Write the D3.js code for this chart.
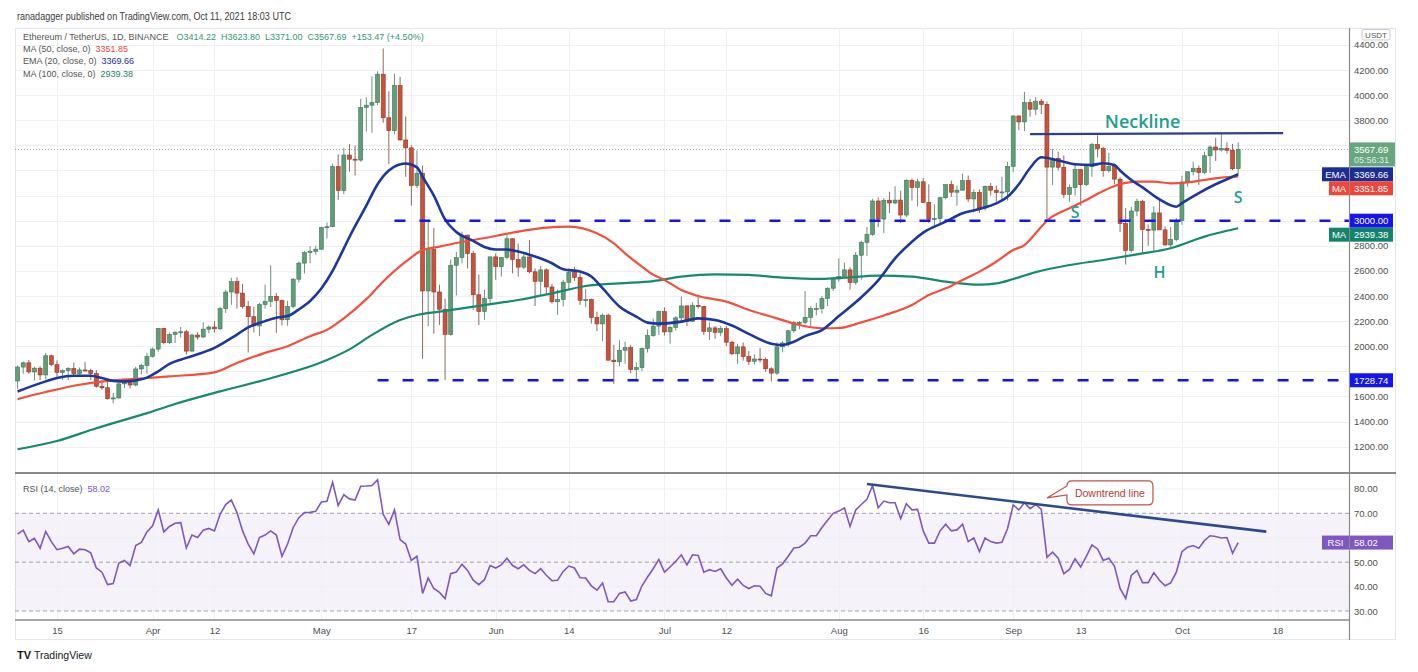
<!DOCTYPE html>
<html>
<head>
<meta charset="utf-8">
<script src="https://cdn.jsdelivr.net/npm/d3@7"></script>
<style>
  html, body { margin: 0; padding: 0; background: #ffffff; }
  svg { display: block; font-family: "Liberation Sans", Arial, sans-serif; }
</style>
</head>
<body>
<svg id="chart" width="1418" height="672"></svg>
<script>
// ---------------- DATA ----------------
const startDate = "2021-03-08"; // first daily candle, one candle per day
// [open, high, low, close]
const ohlcMar = [
  [1723,1845,1661,1834],[1834,1877,1781,1868],[1868,1890,1780,1795],[1795,1837,1728,1825],
  [1825,1840,1730,1771],[1771,1946,1736,1924],[1924,1932,1840,1854],[1854,1887,1757,1792],
  [1792,1815,1732,1806],[1806,1833,1730,1822],[1822,1870,1762,1782],[1782,1830,1760,1811],
  [1811,1876,1800,1806],[1806,1820,1731,1783],[1783,1810,1670,1681],[1681,1726,1652,1669],
  [1669,1740,1575,1582],[1582,1627,1546,1588],[1588,1705,1582,1700],[1700,1730,1668,1716],
  [1716,1725,1663,1691],[1691,1837,1680,1819],[1819,1860,1776,1847],[1847,1948,1781,1919]
];
const ohlcApr = [
  [1919,1990,1911,1977],[1977,2144,1955,2142],[2142,2145,2015,2028],[2028,2110,2018,2093],
  [2093,2121,2025,2108],[2108,2153,2070,2115],[2115,2131,1933,1961],[1961,2100,1956,2089],
  [2089,2112,2052,2073],[2073,2190,2067,2136],[2136,2165,2104,2153],[2153,2200,2110,2139],
  [2139,2315,2128,2299],[2299,2448,2265,2432],[2432,2545,2330,2514],[2514,2548,2300,2423],
  [2423,2497,2300,2317],[2317,2360,1950,2235],[2235,2313,2110,2162],[2162,2345,2080,2331],
  [2331,2492,2300,2357],[2357,2644,2311,2397],[2397,2424,2107,2365],[2365,2370,2166,2211],
  [2211,2360,2163,2317],[2317,2544,2300,2534],[2534,2675,2508,2662],[2662,2760,2580,2746],
  [2746,2798,2660,2756],[2756,2800,2728,2773]
];
const ohlcMay = [
  [2773,2950,2768,2945],[2945,2985,2858,2952],[2952,3455,2948,3431],[3431,3530,3166,3240],
  [3240,3580,3210,3523],[3523,3610,3390,3490],[3490,3600,3361,3483],[3483,3970,3470,3902],
  [3902,3982,3710,3920],[3920,4150,3700,3941],[3941,4190,3920,4167],[4167,4372,3780,3820],
  [3820,4030,3450,3717],[3717,4170,3690,4076],[4076,4147,3640,3643],[3643,3830,3350,3580],
  [3580,3600,3120,3280],[3280,3560,3260,3378],[3378,3440,1900,2440],[2440,2990,2160,2770],
  [2770,2942,2100,2432],[2432,2490,2170,2295],[2295,2380,1730,2093],[2093,2690,2085,2645],
  [2645,2750,2405,2706],[2706,2912,2660,2885],[2885,2890,2620,2738],[2738,2760,2290,2410],
  [2410,2570,2168,2276],[2276,2450,2210,2380],[2380,2712,2345,2712]
];
const ohlcJun = [
  [2712,2740,2529,2634],[2634,2710,2555,2707],[2707,2890,2690,2856],[2856,2860,2580,2690],
  [2690,2817,2555,2630],[2630,2744,2615,2711],[2711,2846,2581,2593],[2593,2620,2320,2517],
  [2517,2640,2400,2608],[2608,2620,2410,2472],[2472,2495,2340,2354],[2354,2451,2250,2372],
  [2372,2530,2317,2510],[2510,2620,2450,2586],[2586,2633,2521,2549],[2549,2580,2330,2366],
  [2366,2455,2310,2372],[2372,2380,2180,2230],[2230,2275,2120,2178],[2178,2260,2040,2247],
  [2247,2260,1885,1889],[1889,2010,1700,1876],[1876,2048,1840,1968],[1968,2035,1860,1990],
  [1990,2012,1785,1813],[1813,1870,1720,1829],[1829,1990,1800,1982],[1982,2135,1950,2085],
  [2085,2220,2075,2160],[2160,2285,2090,2275]
];
const ohlcJul = [
  [2275,2310,2086,2114],[2114,2160,2020,2150],[2150,2240,2125,2226],[2226,2395,2204,2321],
  [2321,2325,2160,2198],[2198,2350,2195,2324],[2324,2410,2300,2317],[2317,2320,2090,2117],
  [2117,2190,2050,2146],[2146,2160,2060,2110],[2110,2160,2080,2140],[2140,2162,2000,2032],
  [2032,2045,1930,1940],[1940,2020,1860,1995],[1995,2030,1885,1917],[1917,1962,1850,1880],
  [1880,1935,1855,1898],[1898,1985,1870,1895],[1895,1910,1795,1820],[1820,1832,1718,1786],
  [1786,2030,1770,1995],[1995,2040,1952,2026],[2026,2130,1998,2123],[2123,2200,2105,2188],
  [2188,2200,2135,2190],[2190,2440,2175,2230],[2230,2317,2150,2300],[2300,2345,2245,2300],
  [2300,2400,2260,2380],[2380,2470,2320,2462],[2462,2550,2440,2536]
];
const ohlcAug = [
  [2536,2700,2515,2556],[2556,2667,2545,2608],[2608,2630,2450,2507],[2507,2750,2490,2725],
  [2725,2840,2530,2827],[2827,2950,2720,2890],[2890,3175,2880,3157],[3157,3185,2950,3013],
  [3013,3180,2900,3163],[3163,3230,3060,3141],[3141,3275,3131,3164],[3164,3240,2980,3045],
  [3045,3330,3030,3322],[3322,3335,3160,3265],[3265,3335,3115,3310],[3310,3340,3140,3146],
  [3146,3290,2980,3012],[3012,3130,2950,3018],[3018,3190,2975,3183],[3183,3290,3170,3287],
  [3287,3320,3190,3227],[3227,3280,3120,3243],[3243,3375,3240,3319],[3319,3360,3150,3173],
  [3173,3250,3065,3225],[3225,3250,3060,3101],[3101,3280,3080,3274],[3274,3300,3200,3243],
  [3243,3280,3150,3225],[3225,3350,3160,3229],[3229,3470,3160,3433]
];
const ohlcSep = [
  [3433,3840,3387,3834],[3834,3840,3720,3787],[3787,4027,3712,3940],[3940,3970,3830,3888],
  [3888,3985,3840,3952],[3952,3970,3850,3927],[3927,3950,3000,3427],[3427,3570,3283,3497],
  [3497,3550,3400,3426],[3426,3520,3180,3210],[3210,3290,3150,3265],[3265,3460,3200,3408],
  [3408,3410,3120,3287],[3287,3450,3277,3430],[3430,3620,3350,3606],[3606,3680,3505,3574],
  [3574,3590,3350,3398],[3398,3540,3384,3433],[3433,3440,3290,3331],[3331,3345,2910,2977],
  [2977,3100,2651,2763],[2763,3110,2745,3077],[3077,3175,3035,3155],[3155,3165,2740,2930],
  [2930,2970,2800,2925],[2925,3115,2750,3062],[3062,3170,2925,2927],[2927,2955,2800,2807],
  [2807,2950,2788,2850],[2850,3020,2835,3001]
];
const ohlcOct = [
  [3001,3358,2967,3308],[3308,3390,3270,3390],[3390,3470,3360,3418],[3418,3440,3285,3384],
  [3384,3550,3370,3517],[3517,3600,3380,3587],[3587,3660,3476,3563],[3563,3690,3550,3576],
  [3576,3625,3535,3561],[3561,3612,3402,3414],[3414.22,3623.8,3371,3567.69]
];

// Moving averages (date, value)
const ema20 = [
  ["2021-03-08",1640],["2021-03-13",1720],["2021-03-15",1747],["2021-03-18",1765],["2021-03-21",1765],
  ["2021-03-23",1747],["2021-03-25",1724],["2021-03-27",1720],["2021-03-29",1728],["2021-03-31",1750],
  ["2021-04-02",1800],["2021-04-04",1860],["2021-04-07",1907],["2021-04-12",1987],["2021-04-16",2093],
  ["2021-04-18",2150],["2021-04-21",2200],["2021-04-23",2227],["2021-04-25",2240],["2021-04-27",2293],
  ["2021-04-29",2360],["2021-05-01",2460],["2021-05-03",2600],["2021-05-04",2687],["2021-05-06",2870],
  ["2021-05-09",3120],["2021-05-11",3290],["2021-05-13",3400],["2021-05-16",3455],["2021-05-18",3425],
  ["2021-05-19",3350],["2021-05-21",3200],["2021-05-23",3010],["2021-05-25",2910],["2021-05-28",2840],
  ["2021-05-30",2790],["2021-06-01",2770],["2021-06-03",2770],["2021-06-05",2754],["2021-06-08",2714],
  ["2021-06-11",2661],["2021-06-13",2613],["2021-06-16",2595],["2021-06-18",2555],["2021-06-20",2462],
  ["2021-06-23",2316],["2021-06-26",2236],["2021-06-28",2188],["2021-06-30",2180],["2021-07-04",2196],
  ["2021-07-07",2222],["2021-07-10",2209],["2021-07-13",2165],["2021-07-16",2098],["2021-07-20",2020],
  ["2021-07-22",2010],["2021-07-24",2035],["2021-07-26",2080],["2021-07-29",2129],["2021-08-01",2240],
  ["2021-08-05",2390],["2021-08-08",2525],["2021-08-11",2700],["2021-08-14",2833],["2021-08-16",2905],
  ["2021-08-20",2992],["2021-08-23",3059],["2021-08-26",3093],["2021-08-29",3138],["2021-08-31",3190],
  ["2021-09-02",3290],["2021-09-04",3420],["2021-09-06",3505],["2021-09-09",3480],["2021-09-12",3450],
  ["2021-09-15",3444],["2021-09-17",3457],["2021-09-19",3444],["2021-09-20",3400],["2021-09-22",3324],
  ["2021-09-24",3265],["2021-09-27",3170],["2021-09-30",3111],["2021-10-01",3140],["2021-10-04",3220],
  ["2021-10-07",3290],["2021-10-09",3330],["2021-10-11",3369.66]
];
const ma50 = [
  ["2021-03-08",1579],["2021-03-13",1635],["2021-03-19",1693],["2021-03-25",1728],["2021-03-31",1747],
  ["2021-04-04",1760],["2021-04-12",1792],["2021-04-16",1867],["2021-04-21",1947],["2021-04-25",2000],
  ["2021-04-29",2080],["2021-05-02",2130],["2021-05-05",2222],["2021-05-09",2375],["2021-05-12",2515],
  ["2021-05-16",2673],["2021-05-19",2766],["2021-05-22",2793],["2021-05-26",2830],["2021-06-01",2878],
  ["2021-06-05",2913],["2021-06-10",2945],["2021-06-14",2953],["2021-06-19",2900],["2021-06-22",2820],
  ["2021-06-24",2740],["2021-06-27",2634],["2021-06-29",2570],["2021-07-01",2528],["2021-07-04",2448],
  ["2021-07-07",2400],["2021-07-12",2355],["2021-07-16",2289],["2021-07-21",2222],["2021-07-25",2169],
  ["2021-07-29",2143],["2021-08-01",2145],["2021-08-05",2190],["2021-08-09",2245],["2021-08-14",2329],
  ["2021-08-17",2408],["2021-08-20",2461],["2021-08-23",2527],["2021-08-26",2594],["2021-08-29",2673],
  ["2021-09-01",2766],["2021-09-03",2806],["2021-09-05",2900],["2021-09-07",3000],["2021-09-11",3099],
  ["2021-09-14",3165],["2021-09-17",3237],["2021-09-20",3290],["2021-09-23",3311],["2021-09-26",3311],
  ["2021-09-29",3298],["2021-10-02",3305],["2021-10-05",3324],["2021-10-08",3343],["2021-10-11",3351.85]
];
const ma100 = [
  ["2021-03-08",1179],["2021-03-15",1245],["2021-03-22",1347],["2021-03-31",1467],["2021-04-05",1540],
  ["2021-04-13",1640],["2021-04-21",1733],["2021-05-02",1890],["2021-05-06",1975],["2021-05-10",2090],
  ["2021-05-15",2209],["2021-05-18",2249],["2021-05-22",2275],["2021-05-26",2302],["2021-06-01",2342],
  ["2021-06-05",2368],["2021-06-11",2421],["2021-06-17",2480],["2021-06-23",2501],["2021-06-29",2519],
  ["2021-07-04",2554],["2021-07-10",2573],["2021-07-16",2568],["2021-07-22",2546],["2021-07-29",2536],
  ["2021-08-02",2546],["2021-08-08",2562],["2021-08-14",2554],["2021-08-20",2514],["2021-08-26",2490],
  ["2021-08-29",2500],["2021-09-01",2535],["2021-09-05",2590],["2021-09-11",2647],["2021-09-17",2687],
  ["2021-09-23",2732],["2021-09-29",2780],["2021-10-05",2873],["2021-10-11",2939.38]
];

// RSI(14) daily values, one per candle
const rsi14 = [
  61.5,63.1,58.4,59.7,55.7,62.6,58.4,55.1,55.7,56.4,53.4,55.3,55.1,53.8,47.6,45.9,40.8,41.2,49.6,50.7,
  48.6,56.8,58.1,62.4,64.9,71.4,62.4,64.6,65.9,66.2,55.8,61.1,60.1,63.1,63.8,62.8,69.6,73.6,75.4,70.3,
  62.8,57.4,53.4,60.1,61.1,62.8,61.1,52.4,57.4,64.2,68.2,70.3,70.4,70.8,74.6,74.9,82.7,73.2,77.6,75.9,
  75.4,81.1,81.2,81.4,83.8,69.6,65.5,71.4,59.2,57.4,50.7,52.4,37.2,43.5,39.2,37.6,35.1,45.3,45.9,49.1,
  46.6,42.6,40.8,42.8,48.6,47.6,48.9,51.6,48.6,47.3,48.9,46.6,45.3,47.3,44.6,42.4,42.6,46.2,48.4,47.6,
  43.6,43.5,40.3,38.5,41.5,33.8,33.8,37.2,37.8,34.1,34.7,40.3,43.9,47.3,51.1,45.9,48.0,50.3,53.0,48.9,
  53.0,52.7,45.9,46.9,46.2,47.3,43.5,40.5,43.0,40.5,39.2,40.3,40.1,37.2,36.2,47.6,49.3,52.4,55.8,56.1,
  57.8,60.8,60.8,64.2,67.2,70.0,70.9,72.2,64.6,71.4,73.6,75.7,81.4,72.3,75.0,74.3,74.3,67.8,73.9,71.4,
  71.6,62.8,57.8,57.8,62.8,65.5,62.8,63.2,65.5,58.4,59.9,54.3,59.9,58.4,57.8,58.1,63.8,73.4,71.4,74.3,
  71.9,73.6,71.6,52.0,54.1,51.6,45.3,47.0,51.4,48.0,52.4,57.0,55.4,50.7,51.6,48.4,39.2,35.1,44.6,46.6,
  41.6,41.6,45.7,42.6,40.3,41.5,45.9,54.3,56.1,56.8,55.7,58.8,60.8,60.5,59.9,60.1,53.6,58.02
];

// Axis ticks
const priceTicks = [1200,1400,1600,1800,2000,2200,2400,2600,2800,3000,3200,3400,3600,3800,4000,4200,4400];
const rsiTicks = [30,40,50,60,70,80];
const timeTickDates = ["2021-03-15","2021-04-01","2021-04-12","2021-05-01","2021-05-17","2021-06-01","2021-06-14",
  "2021-07-01","2021-07-12","2021-08-01","2021-08-16","2021-09-01","2021-09-13","2021-10-01","2021-10-18"];
const timeTickLabels = ["15","Apr","12","May","17","Jun","14","Jul","12","Aug","16","Sep","13","Oct","18"];

// Drawn annotations (in data space)
const levels = [ {price:3000, from:"2021-05-14", label:"3000.00"}, {price:1728.74, from:"2021-05-11", label:"1728.74"} ];
const neckline = [["2021-09-04",3690],["2021-10-19",3698]];
const rsiTrend = [["2021-08-06",82.0],["2021-10-16",62.5]];
const patternLabels = [
  {text:"Neckline", date:"2021-09-24", price:3738, size:18},
  {text:"S", date:"2021-09-12", price:3020, size:16},
  {text:"H", date:"2021-09-27", price:2543, size:16},
  {text:"S", date:"2021-10-11", price:3141, size:16}
];
const calloutAnchor = {date:"2021-09-07", rsi:76.3, text:"Downtrend line"};

const lastClose = 3567.69, lastEma = 3369.66, lastMa50 = 3351.85, lastMa100 = 2939.38, lastRsi = 58.02;
const headerText = "ranadagger published on TradingView.com, Oct 11, 2021 18:03 UTC";
const symbolText = "Ethereum / TetherUS, 1D, BINANCE";
const ohlcLegend = ["O3414.22","H3623.80","L3371.00","C3567.69","+153.47 (+4.50%)"];

// ---------------- LAYOUT ----------------
const parse = d3.utcParse("%Y-%m-%d");
const DAY = 864e5;
const start = parse(startDate);
const ohlc = [].concat(ohlcMar, ohlcApr, ohlcMay, ohlcJun, ohlcJul, ohlcAug, ohlcSep, ohlcOct);
const candles = ohlc.map((d, i) => ({ date: d3.utcDay.offset(start, i), o: d[0], h: d[1], l: d[2], c: d[3] }));
const rsiData = rsi14.map((v, i) => ({ date: d3.utcDay.offset(start, i), v }));

const L = 15, R = 1349, FR = 1396;
const mainTop = 28, mainBot = 472, rsiTop = 474, rsiBot = 620, frameBot = 640;

const x = d3.scaleUtc()
  .domain([new Date(+start - 0.46 * DAY), new Date(+start + 236.7 * DAY)])
  .range([L, R]);
const y = d3.scaleLinear().domain([998, 4535]).range([mainBot, mainTop]);
const yR = d3.scaleLinear().domain([26.3, 86.1]).range([rsiBot, rsiTop]);

const svg = d3.select("#chart");
const defs = svg.append("defs");
defs.append("clipPath").attr("id", "clipMain").append("rect")
  .attr("x", L).attr("y", mainTop).attr("width", R - L).attr("height", mainBot - mainTop);
defs.append("clipPath").attr("id", "clipRsi").append("rect")
  .attr("x", L).attr("y", rsiTop).attr("width", R - L).attr("height", rsiBot - rsiTop);

const gridColor = "#eef0f4";
const axisText = "#4f4f4f";

// Header
svg.append("text").attr("x", 17).attr("y", 20).attr("font-size", 10.5).attr("fill", "#3a3a3a")
  .attr("textLength", 274).attr("lengthAdjust", "spacingAndGlyphs")
  .text(headerText);

// Frame
svg.append("rect").attr("x", L + 0.5).attr("y", mainTop + 0.5).attr("width", FR - L - 1).attr("height", frameBot - mainTop - 1)
  .attr("fill", "none").attr("stroke", "#e3e6ec");

// ---------------- MAIN PANE ----------------
const gMain = svg.append("g").attr("clip-path", "url(#clipMain)");
gMain.selectAll("line.hg").data(priceTicks).join("line")
  .attr("x1", L).attr("x2", R).attr("y1", d => Math.round(y(d)) + 0.5).attr("y2", d => Math.round(y(d)) + 0.5)
  .attr("stroke", gridColor);
gMain.selectAll("line.vg").data(timeTickDates).join("line")
  .attr("x1", d => Math.round(x(parse(d))) + 0.5).attr("x2", d => Math.round(x(parse(d))) + 0.5)
  .attr("y1", mainTop).attr("y2", mainBot).attr("stroke", gridColor);

gMain.append("line").attr("x1", L).attr("x2", R).attr("y1", y(lastClose)).attr("y2", y(lastClose))
  .attr("stroke", "#9aa0a6").attr("stroke-dasharray", "1,2").attr("stroke-width", 1);

// candles
const upFill = "#5e9f78", upLine = "#3f7557", dnFill = "#c8523b", dnLine = "#8e3826";
const bw = 4;
const gC = gMain.append("g");
gC.selectAll("line.wick").data(candles).join("line")
  .attr("x1", d => x(d.date)).attr("x2", d => x(d.date))
  .attr("y1", d => y(d.h)).attr("y2", d => y(d.l))
  .attr("stroke", d => d.c >= d.o ? "#6f8f7d" : "#8f6a62").attr("stroke-width", 1);
gC.selectAll("rect.body").data(candles).join("rect")
  .attr("x", d => x(d.date) - bw / 2)
  .attr("y", d => y(Math.max(d.o, d.c)))
  .attr("width", bw)
  .attr("height", d => Math.max(1, Math.abs(y(d.o) - y(d.c))))
  .attr("fill", d => d.c >= d.o ? upFill : dnFill)
  .attr("stroke", d => d.c >= d.o ? upLine : dnLine).attr("stroke-width", 0.6);

// moving averages
const maLine = d3.line().x(d => x(parse(d[0]))).y(d => y(d[1])).curve(d3.curveMonotoneX);
gMain.append("path").attr("d", maLine(ma100)).attr("fill", "none").attr("stroke", "#168a70").attr("stroke-width", 2.2);
gMain.append("path").attr("d", maLine(ma50)).attr("fill", "none").attr("stroke", "#f0503c").attr("stroke-width", 2.2);
gMain.append("path").attr("d", maLine(ema20)).attr("fill", "none").attr("stroke", "#1c379e").attr("stroke-width", 2.6);

levels.forEach(lv => {
  gMain.append("line").attr("x1", x(parse(lv.from))).attr("x2", R)
    .attr("y1", y(lv.price)).attr("y2", y(lv.price))
    .attr("stroke", "#1414ee").attr("stroke-width", 2.6).attr("stroke-dasharray", "11,14");
});

gMain.append("line")
  .attr("x1", x(parse(neckline[0][0]))).attr("y1", y(neckline[0][1]))
  .attr("x2", x(parse(neckline[1][0]))).attr("y2", y(neckline[1][1]))
  .attr("stroke", "#2d3f8e").attr("stroke-width", 2.2);

patternLabels.forEach(p => {
  gMain.append("text").attr("x", x(parse(p.date))).attr("y", y(p.price))
    .attr("text-anchor", "middle").attr("font-size", p.size).attr("font-weight", 600)
    .attr("font-family", "'Open Sans', 'Noto Sans', sans-serif")
    .attr("fill", "#1f9e8e").text(p.text);
});

// ---------------- RSI PANE ----------------
const gR = svg.append("g").attr("clip-path", "url(#clipRsi)");
gR.append("rect").attr("x", L).attr("width", R - L).attr("y", yR(70)).attr("height", yR(30) - yR(70))
  .attr("fill", "rgba(126,87,194,0.08)");
gR.selectAll("line.vg").data(timeTickDates).join("line")
  .attr("x1", d => Math.round(x(parse(d))) + 0.5).attr("x2", d => Math.round(x(parse(d))) + 0.5)
  .attr("y1", rsiTop).attr("y2", rsiBot).attr("stroke", gridColor);
gR.selectAll("line.rg").data([80, 60, 40]).join("line")
  .attr("x1", L).attr("x2", R).attr("y1", d => yR(d)).attr("y2", d => yR(d)).attr("stroke", gridColor);
gR.selectAll("line.rd").data([70, 50, 30]).join("line")
  .attr("x1", L).attr("x2", R).attr("y1", d => yR(d)).attr("y2", d => yR(d))
  .attr("stroke", "#a0a0a8").attr("stroke-dasharray", "4,3");
gR.append("path").datum(rsiData)
  .attr("d", d3.line().x(d => x(d.date)).y(d => yR(d.v)))
  .attr("fill", "none").attr("stroke", "#7e57c2").attr("stroke-width", 1.6);
gR.append("line")
  .attr("x1", x(parse(rsiTrend[0][0]))).attr("y1", yR(rsiTrend[0][1]))
  .attr("x2", x(parse(rsiTrend[1][0]))).attr("y2", yR(rsiTrend[1][1]))
  .attr("stroke", "#2c4a8c").attr("stroke-width", 2.6);

{
  const ax = x(parse(calloutAnchor.date)), ay = yR(calloutAnchor.rsi);
  const bx = ax + 20, by = ay - 17, bwid = 86, bh = 24, r = 5;
  const path = `M${bx + r},${by} H${bx + bwid - r} Q${bx + bwid},${by} ${bx + bwid},${by + r}
    V${by + bh - r} Q${bx + bwid},${by + bh} ${bx + bwid - r},${by + bh} H${bx + r}
    Q${bx},${by + bh} ${bx},${by + bh - r} V${by + 14} L${ax},${ay} L${bx},${by + 5}
    V${by + r} Q${bx},${by} ${bx + r},${by} Z`;
  svg.append("path").attr("d", path).attr("fill", "#ffffff").attr("stroke", "#c0504d").attr("stroke-width", 1.2);
  svg.append("text").attr("x", bx + bwid / 2).attr("y", by + 16).attr("text-anchor", "middle")
    .attr("font-size", 10.5).attr("fill", "#b23a36").text(calloutAnchor.text);
}

// ---------------- TAG POSITIONS ----------------
const curTop = y(lastClose) - 7, curBot = y(lastClose) + 17;
const tags = [
  {v:lastEma, fill:"#1b2e96", name:"EMA"},
  {v:lastMa50, fill:"#f0463a", name:"MA"},
  {v:levels[0].price, fill:"#1414ee", name:null, text:levels[0].label},
  {v:lastMa100, fill:"#14836c", name:"MA"},
  {v:levels[1].price, fill:"#1414ee", name:null, text:levels[1].label}
];
let prevBottom = curBot;
tags.forEach(t => {
  let cy = y(t.v);
  if (cy - 7 < prevBottom) cy = prevBottom + 7;
  prevBottom = cy + 7;
  t.cy = cy;
});
const priceBlocks = [[curTop, curBot]].concat(tags.map(t => [t.cy - 7, t.cy + 7]));
const rsiBlocks = [[yR(lastRsi) - 7, yR(lastRsi) + 7]];
const hidden = (cy, blocks) => blocks.some(([a, b]) => cy + 3 > a && cy - 3 < b);

// ---------------- AXES ----------------
const axisFont = "'Liberation Sans', Arial, sans-serif";
const yAxis = svg.append("g").attr("transform", `translate(${R},0)`)
  .call(d3.axisRight(y).tickValues(priceTicks.filter(v => !hidden(y(v), priceBlocks)))
    .tickSize(0).tickPadding(5).tickFormat(d3.format(".2f")));
yAxis.select(".domain").remove();
yAxis.selectAll("text").attr("fill", axisText).attr("font-size", 9.5).attr("font-family", axisFont);

const rAxis = svg.append("g").attr("transform", `translate(${R},0)`)
  .call(d3.axisRight(yR).tickValues(rsiTicks.filter(v => !hidden(yR(v), rsiBlocks)))
    .tickSize(0).tickPadding(5).tickFormat(d3.format(".2f")));
rAxis.select(".domain").remove();
rAxis.selectAll("text").attr("fill", axisText).attr("font-size", 9.5).attr("font-family", axisFont);

const xAxis = svg.append("g").attr("transform", `translate(0,${rsiBot})`)
  .call(d3.axisBottom(x).tickValues(timeTickDates.map(parse)).tickSize(0).tickPadding(7)
    .tickFormat((d, i) => timeTickLabels[i]));
xAxis.select(".domain").remove();
xAxis.selectAll("text").attr("fill", axisText).attr("font-size", 9.5).attr("font-family", axisFont);

svg.append("line").attr("x1", R + 0.5).attr("x2", R + 0.5).attr("y1", mainTop).attr("y2", frameBot).attr("stroke", "#8a8a8a").attr("stroke-width", 1.2);
svg.append("line").attr("x1", L).attr("x2", FR).attr("y1", 473).attr("y2", 473).attr("stroke", "#8a8a8a").attr("stroke-width", 2);
svg.append("line").attr("x1", L).attr("x2", R).attr("y1", rsiBot).attr("y2", rsiBot).attr("stroke", "#8a8a8a").attr("stroke-width", 1.5);

// currency box (sits just above the top price label)
svg.append("rect").attr("x", 1362).attr("y", 29.5).attr("width", 28).attr("height", 10.5).attr("rx", 2)
  .attr("fill", "#ffffff").attr("stroke", "#c8ccd4");
svg.append("text").attr("x", 1376).attr("y", 37.5).attr("text-anchor", "middle").attr("font-size", 8).attr("fill", "#555").text("USDT");

// ---------------- PRICE TAGS ----------------
function tag(cy, value, fill, name) {
  const h = 14;
  svg.append("rect").attr("x", R + 1).attr("y", cy - h / 2).attr("width", 43).attr("height", h).attr("fill", fill);
  svg.append("text").attr("x", R + 5).attr("y", cy + 3.5).attr("font-size", 9.5).attr("fill", "#ffffff").text(value);
  if (name) {
    const w = name.length * 7 + 6;
    svg.append("rect").attr("x", R - w).attr("y", cy - h / 2).attr("width", w).attr("height", h).attr("fill", fill);
    svg.append("text").attr("x", R - w / 2).attr("y", cy + 3.5).attr("text-anchor", "middle")
      .attr("font-size", 9.5).attr("fill", "#ffffff").text(name);
  }
}
{
  const cy = y(lastClose);
  svg.append("rect").attr("x", R + 1).attr("y", curTop).attr("width", 45).attr("height", curBot - curTop).attr("fill", "#68a67f");
  svg.append("text").attr("x", R + 5).attr("y", cy + 3.5).attr("font-size", 9.5).attr("fill", "#ffffff").text(d3.format(".2f")(lastClose));
  svg.append("text").attr("x", R + 5).attr("y", cy + 14).attr("font-size", 9).attr("fill", "#dcefe3").text("05:56:31");
}
tags.forEach(t => tag(t.cy, t.text || d3.format(".2f")(t.v), t.fill, t.name));
tag(yR(lastRsi), d3.format(".2f")(lastRsi), "#7e57c2", "RSI");

// ---------------- LEGENDS ----------------
const leg = svg.append("g").attr("font-size", 9);
function flow(items, x0, py) {
  let cx = x0;
  items.forEach(([txt, col, gap]) => {
    cx += gap || 0;
    const t = leg.append("text").attr("x", cx).attr("y", py).attr("fill", col).text(txt);
    cx += t.node().getComputedTextLength();
  });
}
flow([[symbolText, "#555", 0]].concat(ohlcLegend.map((t, i) => [t, "#2f9a73", i === 0 ? 8 : 5])), 23, 39.5);
flow([["MA (50, close, 0)", "#555", 0], ["3351.85", "#f0463a", 5]], 23, 51.5);
flow([["EMA (20, close, 0)", "#555", 0], ["3369.66", "#1b2e96", 5]], 23, 63.5);
flow([["MA (100, close, 0)", "#555", 0], ["2939.38", "#14836c", 5]], 23, 76.5);
flow([["RSI (14, close)", "#555", 0], ["58.02", "#7e57c2", 5]], 23, 492);

svg.append("text").attr("x", 17).attr("y", 659).attr("font-size", 11).attr("font-weight", "bold").attr("fill", "#131722").text("TV");
svg.append("text").attr("x", 34).attr("y", 659).attr("font-size", 10.5).attr("fill", "#131722").text("TradingView");
</script>
</body>
</html>
